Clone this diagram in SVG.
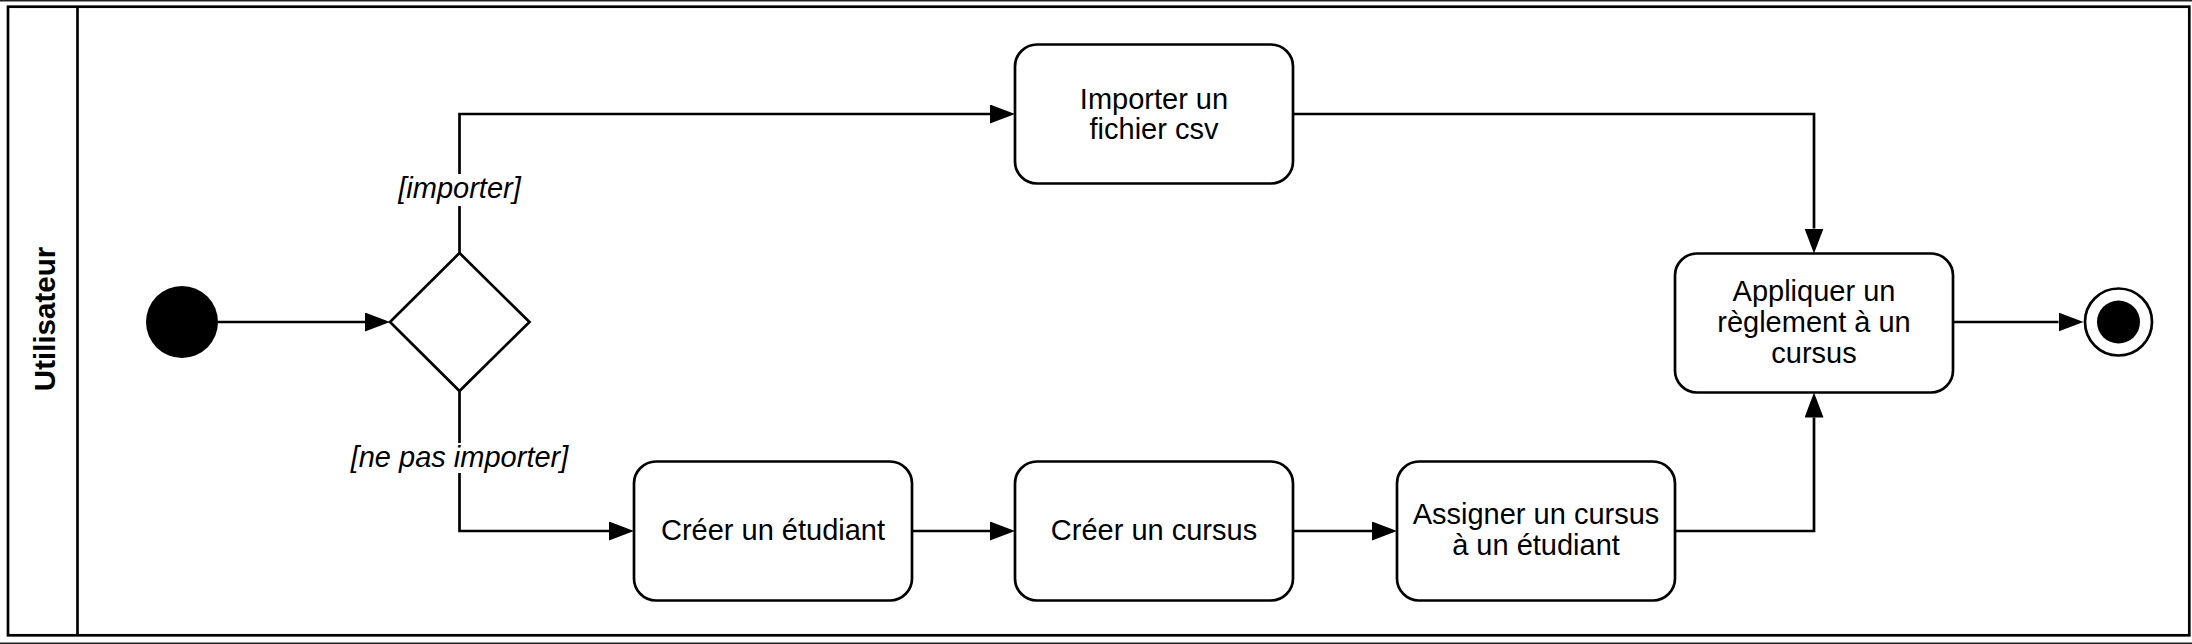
<svg xmlns="http://www.w3.org/2000/svg" width="2192" height="644" viewBox="0 0 2192 644">
<style>
.frame{fill:none;stroke:#000;stroke-width:2.7}
.thin{stroke:#222;stroke-width:1.5}
.act{fill:#fff;stroke:#000;stroke-width:2.7}
.edge{fill:none;stroke:#000;stroke-width:2.7;marker-end:url(#arr)}
.t{font-family:"Liberation Sans",Arial,sans-serif;font-size:29px;fill:#000;text-anchor:middle}
.g{font-style:italic}
.lane{font-weight:bold;font-size:29.5px}
</style>
<defs>
<marker id="arr" markerUnits="userSpaceOnUse" markerWidth="26" markerHeight="20" refX="0" refY="9.5" orient="auto" viewBox="0 0 26 20">
<path d="M0,0 L25,9.5 L0,19 Z" fill="#000"/>
</marker>
</defs>
<rect width="2192" height="644" fill="#fff"/>
<line class="thin" x1="0" y1="0.75" x2="2192" y2="0.75"/>
<line class="thin" x1="0" y1="643.25" x2="2192" y2="643.25"/>
<g id="swimlane">
<rect class="frame" x="8" y="6.7" width="2181.3" height="628.6"/>
<line class="frame" x1="77.5" y1="6.7" x2="77.5" y2="635.3"/>
<text class="t lane" transform="translate(54.5,319) rotate(-90)">Utilisateur</text>
</g>
<g id="connectors">
<path class="edge" d="M218,322 H365"/>
<path class="edge" d="M459.5,253 V114 H990"/>
<path class="edge" d="M1293,114 H1814 V228.5"/>
<path class="edge" d="M459.5,391 V531 H609"/>
<path class="edge" d="M912,531 H990"/>
<path class="edge" d="M1293,531 H1372"/>
<path class="edge" d="M1675,531 H1814 V417.5"/>
<path class="edge" d="M1953,322 H2058.5"/>
<g id="guard-importer">
<rect x="425" y="174" width="70" height="32" fill="#fff"/>
<text class="t g" x="459.5" y="198">[importer]</text>
</g>
<g id="guard-ne-pas-importer">
<rect x="425" y="443" width="70" height="30" fill="#fff"/>
<text class="t g" x="459.5" y="466.5">[ne pas importer]</text>
</g>
</g>
<g id="initial">
<circle cx="182" cy="322" r="36" fill="#000"/>
</g>
<g id="decision">
<polygon class="act" points="459.5,253 529.5,322 459.5,391 390,322"/>
</g>
<g id="importer-csv">
<rect class="act" x="1015" y="44.5" width="278" height="139" rx="22"/>
<text class="t" x="1154" y="108.5">Importer un</text>
<text class="t" x="1154" y="138.5">fichier csv</text>
</g>
<g id="creer-etudiant">
<rect class="act" x="634" y="461.5" width="278" height="139" rx="22"/>
<text class="t" x="773" y="540">Créer un étudiant</text>
</g>
<g id="creer-cursus">
<rect class="act" x="1015" y="461.5" width="278" height="139" rx="22"/>
<text class="t" x="1154" y="540">Créer un cursus</text>
</g>
<g id="assigner-cursus">
<rect class="act" x="1397" y="461.5" width="278" height="139" rx="22"/>
<text class="t" x="1536" y="524">Assigner un cursus</text>
<text class="t" x="1536" y="555">à un étudiant</text>
</g>
<g id="appliquer-reglement">
<rect class="act" x="1675" y="253.5" width="278" height="139" rx="22"/>
<text class="t" x="1814" y="301">Appliquer un</text>
<text class="t" x="1814" y="332">règlement à un</text>
<text class="t" x="1814" y="363">cursus</text>
</g>
<g id="final">
<circle cx="2118.5" cy="322" r="33.5" fill="#fff" stroke="#000" stroke-width="2.7"/>
<circle cx="2118.5" cy="322" r="21.5" fill="#000"/>
</g>
</svg>
